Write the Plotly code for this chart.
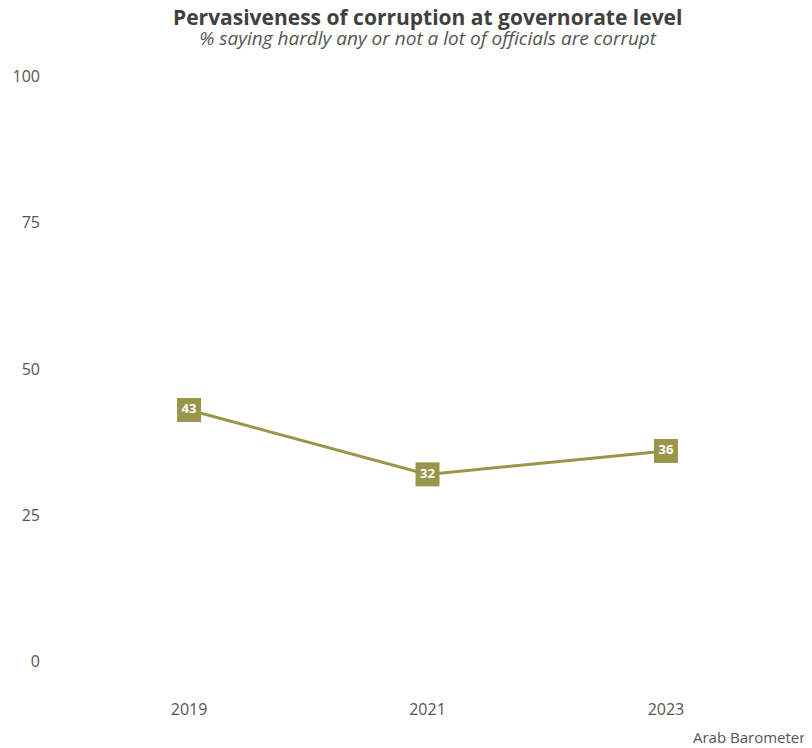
import plotly.graph_objects as go

years = ["2019", "2021", "2023"]
values = [43, 32, 36]
y_ticks = [0, 25, 50, 75, 100]

title_text = "Pervasiveness of corruption at governorate level"
subtitle_text = "% saying hardly any or not a lot of officials are corrupt"
caption_text = "Arab Barometer"

color = "#9A9548"
font_family = "Open Sans, Lato, sans-serif"

fig = go.Figure()
fig.add_trace(go.Scatter(
    x=years, y=values,
    mode="lines+markers+text",
    line=dict(color=color, width=3),
    marker=dict(symbol="square", size=24, color=color),
    text=[str(v) for v in values],
    textposition="middle center",
    textfont=dict(color="white", size=13, family=font_family, weight="bold"),
    hoverinfo="skip",
    cliponaxis=False,
))

header = ("<b><span style='font-size:21px;color:#404040'>" + title_text + "</span></b><br>"
          "<i><span style='font-size:19px;color:#555555'>" + subtitle_text + "</span></i>")

# The page body adds an 8px offset, so the figure is 8px smaller than the window.
fig.update_layout(
    width=804, height=740,
    margin=dict(l=38, r=3, t=39, b=57),
    paper_bgcolor="white", plot_bgcolor="white",
    showlegend=False,
    font=dict(family=font_family, color="#555555"),
    xaxis=dict(
        type="category", range=[-0.6, 2.6],
        showgrid=False, zeroline=False, showline=False, ticks="",
        tickfont=dict(size=16, color="#555555"),
        ticklabelstandoff=7,
    ),
    yaxis=dict(
        range=[-5, 105], tickvals=y_ticks,
        showgrid=False, zeroline=False, showline=False, ticks="",
        tickfont=dict(size=16, color="#555555"),
        ticklabelstandoff=5,
    ),
    annotations=[
        dict(text=header, xref="paper", yref="paper",
             x=0.5, y=1.0303, xanchor="center", yanchor="middle", showarrow=False,
             font=dict(size=15, color="#404040", family=font_family)),
        dict(text=caption_text, xref="paper", yref="paper",
             x=0.997, y=-0.0714, xanchor="right", yanchor="middle",
             showarrow=False, font=dict(size=15, color="#555555", family=font_family)),
    ],
)

fig.write_html("out.html")
